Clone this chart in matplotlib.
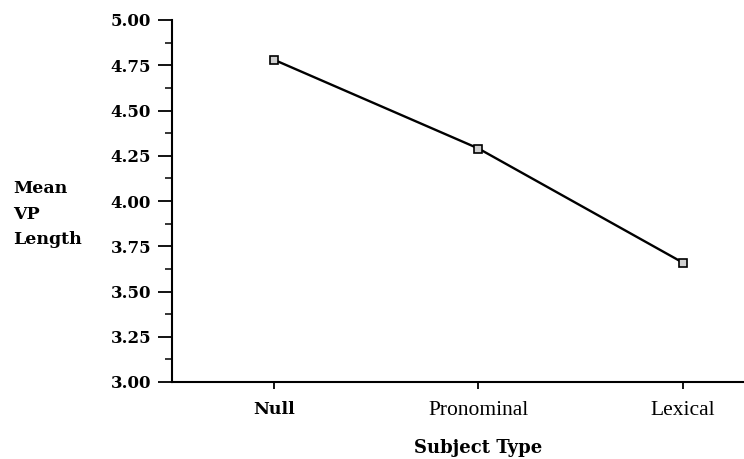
import numpy as np
import matplotlib.pyplot as plt
from matplotlib.ticker import MultipleLocator

# donnees
categories = ["Null", "Pronominal", "Lexical"]
longueur_vp = [4.78, 4.29, 3.66]
graduations_y = [3.00, 3.25, 3.50, 3.75, 4.00, 4.25, 4.50, 4.75, 5.00]

plt.rcParams['font.family'] = ['Liberation Serif', 'DejaVu Serif']
gras = ['DejaVu Serif'] # police large et grasse comme sur le scan

fig = plt.figure(figsize=(7.44, 4.59), dpi=100)
ax = fig.add_axes([172/744, 1 - 382/459, 1 - 172/744, (382 - 20)/459])

x = np.arange(len(categories))
ax.plot(x, longueur_vp, color='black', lw=1.7, marker='s', ms=6,
        mfc='#d0d0d0', mec='black', mew=1.2, clip_on=False)

ax.set_xlim(-0.5, 2.3)
ax.set_ylim(3.0, 5.0)
ax.set_xticks(x)
ax.set_xticklabels(categories, fontsize=15.5)
lab = ax.get_xticklabels()[0] # "Null" parait en gras
lab.set_family(gras)
lab.set_fontweight('bold')
lab.set_fontsize(12.5)
ax.set_yticks(graduations_y)
ax.set_yticklabels([f"{v:.2f}" for v in graduations_y], fontsize=12, fontweight='bold', family=gras)
ax.yaxis.set_minor_locator(MultipleLocator(0.125))

ax.spines['top'].set_visible(False)
ax.spines['right'].set_visible(False)
for s in ['left', 'bottom']:
    ax.spines[s].set_linewidth(1.5)
ax.tick_params(axis='y', which='major', length=10, width=1.3, pad=5)
ax.tick_params(axis='y', which='minor', length=5, width=1.1)
ax.tick_params(axis='x', which='major', length=5, width=1.3, pad=9)

fig.text(13/744, 1 - 214/459, "Mean\nVP\nLength", fontsize=12.5, fontweight='bold',
         family=gras, ha='left', va='center', linespacing=1.65)
fig.text(478/744, 1 - 448/459, "Subject Type", fontsize=13,
         fontweight='bold', family=gras, ha='center', va='center')

fig.savefig("out.png", dpi=100)
